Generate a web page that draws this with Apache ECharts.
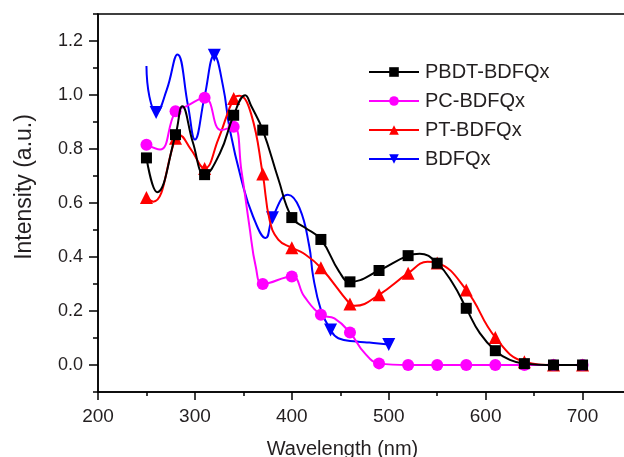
<!DOCTYPE html>
<html>
<head>
<meta charset="utf-8">
<script src="https://cdn.jsdelivr.net/npm/echarts@6/dist/echarts.min.js"></script>
<style>
  html, body { margin: 0; padding: 0; background: #fff; }
  #chart { width: 624px; height: 457px; }
</style>
</head>
<body>
<div id="chart"></div>
<script>
// ---- data ----
const seriesNames = ['PBDT-BDFQx', 'PC-BDFQx', 'PT-BDFQx', 'BDFQx'];

// measured sample points (drawn with markers)
const sampleX = [250, 280, 310, 340, 370, 400, 430, 460, 490, 520, 550, 580, 610, 640, 670, 700];
const pbdtValues = [0.767, 0.853, 0.705, 0.925, 0.870, 0.546, 0.465, 0.308, 0.350, 0.405, 0.377, 0.210, 0.053, 0.005, 0.0, 0.0];
const pcValues   = [0.816, 0.940, 0.990, 0.882, 0.300, 0.328, 0.186, 0.120, 0.006, 0.0, 0.0, 0.0, 0.0, 0.0, 0.0, 0.0];
const ptValues   = [0.620, 0.840, 0.728, 0.987, 0.707, 0.434, 0.360, 0.226, 0.260, 0.340, 0.378, 0.278, 0.102, 0.012, 0.0, 0.0];
const bdfqxX      = [260, 320, 380, 440, 500];
const bdfqxValues = [0.935, 1.147, 0.545, 0.130, 0.076];

// extra points (no markers)
const pbdtCurve  = [[261, 0.640], [287, 0.958], [298, 0.823], [326, 0.786], [352, 0.999], [358, 0.960], [386, 0.690], [413, 0.510], [449, 0.345], [532, 0.412], [566, 0.303], [594, 0.118], [625, 0.019]];
const pcCurve    = [[264, 0.798], [291, 0.958], [327, 0.870], [348, 0.720], [356, 0.520], [363, 0.360], [413, 0.253], [444, 0.173], [475, 0.045]];
const ptCurve    = [[257, 0.605], [283, 0.853], [296, 0.798], [324, 0.835], [346, 0.997], [358, 0.930], [377, 0.538], [386, 0.464], [412, 0.414], [465, 0.219], [540, 0.382]];
const bdfqxCurve = [[250, 1.107], [253, 0.995], [271, 1.020], [282, 1.150], [293, 0.958], [300, 0.835], [310, 0.995], [329, 1.033], [336, 0.872], [348, 0.686], [360, 0.550], [373, 0.470], [396, 0.631], [408, 0.581], [418, 0.440], [422, 0.328], [430, 0.204], [448, 0.099], [467, 0.087], [480, 0.083]];

// axis ticks
const xMajorTicks = [200, 300, 400, 500, 600, 700];
const yMajorTicks = [0.0, 0.2, 0.4, 0.6, 0.8, 1.0, 1.2];

// ---- build ----
function build(xs, ys, curve) {
  const pts = xs.map((x, i) => ({ value: [x, ys[i]] }));
  curve.forEach(p => pts.push({ value: [p[0], p[1]], symbol: 'none' }));
  pts.sort((a, b) => a.value[0] - b.value[0]);
  return pts;
}

const colors = ['#000000', '#ff00ff', '#ff0000', '#0000ff'];
const symbols = ['rect', 'circle', 'triangle', 'triangle'];
const symbolSizes = [11, 12, 13, 13];
const rotates = [0, 0, 0, 180];
const datas = [
  build(sampleX, pbdtValues, pbdtCurve),
  build(sampleX, pcValues, pcCurve),
  build(sampleX, ptValues, ptCurve),
  build(bdfqxX, bdfqxValues, bdfqxCurve)
];

const textColor = '#231f20';
const font = 'Liberation Sans, Arial, Helvetica, sans-serif';

const chart = echarts.init(document.getElementById('chart'), null, { renderer: 'canvas' });
chart.setOption({
  animation: false,
  backgroundColor: '#fff',
  grid: { left: 98, top: 14, right: -7, bottom: 65, outerBoundsMode: 'none', containLabel: false, show: true, borderColor: '#000', borderWidth: 1.5, backgroundColor: 'transparent' },
  legend: {
    orient: 'vertical', left: 363, top: 57,
    itemWidth: 50, itemHeight: 12, itemGap: 9,
    textStyle: { fontSize: 20, color: textColor, fontFamily: font, padding: [0, 0, 0, 1] },
    data: seriesNames
  },
  xAxis: [
    {
      type: 'value', min: 200, max: 750,
      name: 'Wavelength (nm)', nameLocation: 'middle', nameGap: 47,
      nameTextStyle: { fontSize: 20, color: textColor, fontFamily: font, padding: [0, 44, 0, 0] },
      axisLine: { show: true, onZero: false, lineStyle: { color: '#000', width: 1.5 } },
      axisTick: { show: true, customValues: xMajorTicks, length: 8, lineStyle: { color: '#000', width: 1.5 } },
      axisLabel: { customValues: xMajorTicks, fontSize: 19, color: textColor, fontFamily: font, margin: 15 },
      splitLine: { show: false }
    },
    {
      type: 'value', min: 200, max: 750, interval: 50, position: 'bottom',
      axisLine: { show: false, onZero: false },
      axisTick: { show: true, length: 4, lineStyle: { color: '#000', width: 1.5 } },
      axisLabel: { show: false },
      splitLine: { show: false }
    }
  ],
  yAxis: [
    {
      type: 'value', min: -0.1, max: 1.3,
      name: 'Intensity (a.u.)', nameLocation: 'middle', nameGap: 62,
      nameTextStyle: { fontSize: 23, color: textColor, fontFamily: font, padding: [0, 0, 0, 32] },
      axisLine: { show: true, onZero: false, lineStyle: { color: '#000', width: 1.5 } },
      axisTick: { show: true, customValues: yMajorTicks, length: 9, lineStyle: { color: '#000', width: 1.5 } },
      axisLabel: { customValues: yMajorTicks, fontSize: 18, color: textColor, fontFamily: font, margin: 15, formatter: v => v.toFixed(1) },
      splitLine: { show: false }
    },
    {
      type: 'value', min: -0.1, max: 1.3, interval: 0.1, position: 'left',
      axisLine: { show: false, onZero: false },
      axisTick: { show: true, length: 5, lineStyle: { color: '#000', width: 1.5 } },
      axisLabel: { show: false },
      splitLine: { show: false }
    }
  ],
  series: seriesNames.map((name, i) => ({
    name: name,
    type: 'line',
    xAxisIndex: 0, yAxisIndex: 0,
    data: datas[i],
    smooth: 0.45,
    symbol: symbols[i],
    symbolSize: symbolSizes[i],
    symbolRotate: rotates[i],
    showAllSymbol: true,
    color: colors[i],
    itemStyle: { color: colors[i] },
    lineStyle: { color: colors[i], width: 2 },
    z: 10 - i
  }))
});
</script>
</body>
</html>
